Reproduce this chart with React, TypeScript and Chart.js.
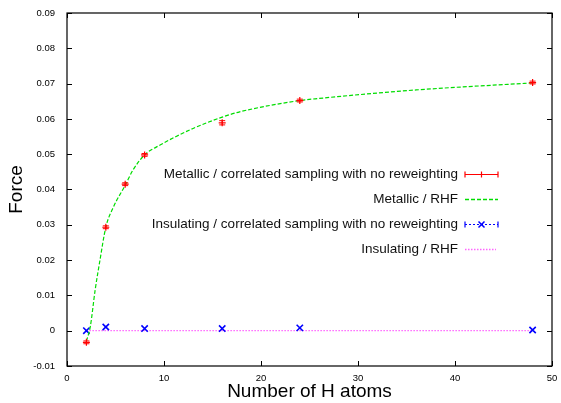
import React, { useEffect, useRef } from "react";
import { Chart, registerables } from "chart.js";

Chart.register(...registerables);

const metallicX = [2, 4, 6, 8, 16, 24, 48];
const metallicY = [-0.0033, 0.0293, 0.0415, 0.0498, 0.0589, 0.0652, 0.0703];
const metallicErr = [0.0004, 0.0004, 0.0004, 0.0004, 0.0006, 0.0004, 0.0004];

const rhfMetX = [2, 2.4, 2.9, 3.4, 4, 4.8, 6, 6.8, 8, 9.6, 13, 16, 17.8, 24, 26, 36, 48];
const rhfMetY = [-0.003, 0.0011, 0.0115, 0.02, 0.0293, 0.0351, 0.0412, 0.0455, 0.0498, 0.0526, 0.0573, 0.0605, 0.062, 0.0652, 0.0658, 0.0682, 0.0702];

const insX = [2, 4, 8, 16, 24, 48];
const insY = [0.0, 0.00105, 0.0006, 0.0006, 0.0008, 0.0002];

const rhfInsX = [2, 48];
const rhfInsY = [0, 0];

const legendLabels = [
  "Metallic / correlated sampling with no reweighting",
  "Metallic / RHF",
  "Insulating / correlated sampling with no reweighting",
  "Insulating / RHF",
];

const xTicks = [0, 10, 20, 30, 40, 50];
const yTicks = [-0.01, 0, 0.01, 0.02, 0.03, 0.04, 0.05, 0.06, 0.07, 0.08, 0.09];

const RED = "#ff0000";
const GREEN = "#00dd00";
const BLUE = "#0000ff";
const PINK = "#ff66ff";
const FONT = "'Liberation Sans', Arial, sans-serif";

const pts = (xs: number[], ys: number[]) => xs.map((x, i) => ({ x, y: ys[i] }));

const zeroPad = (s: any) => {
  s.paddingTop = 0;
  s.paddingBottom = 0;
  s.paddingLeft = 0;
  s.paddingRight = 0;
};

const framePlugin = {
  id: "frame",
  afterDatasetsDraw(chart: any) {
    const { ctx, chartArea: a, scales } = chart;
    const xs = scales.x;
    const ys = scales.y;
    ctx.save();
    // error bars
    ctx.strokeStyle = RED;
    ctx.lineWidth = 1;
    metallicX.forEach((x, i) => {
      const px = xs.getPixelForValue(x);
      const top = ys.getPixelForValue(metallicY[i] + metallicErr[i]);
      const bot = ys.getPixelForValue(metallicY[i] - metallicErr[i]);
      ctx.beginPath();
      ctx.moveTo(px, top);
      ctx.lineTo(px, bot);
      ctx.moveTo(px - 3, top);
      ctx.lineTo(px + 3, top);
      ctx.moveTo(px - 3, bot);
      ctx.lineTo(px + 3, bot);
      ctx.stroke();
    });
    // frame
    ctx.strokeStyle = "#000";
    ctx.lineWidth = 1.2;
    ctx.strokeRect(a.left, a.top, a.right - a.left, a.bottom - a.top);
    // ticks
    ctx.lineWidth = 1;
    ctx.beginPath();
    xTicks.forEach((v) => {
      const px = Math.round(xs.getPixelForValue(v)) + 0.5;
      ctx.moveTo(px, a.bottom);
      ctx.lineTo(px, a.bottom - 5);
      ctx.moveTo(px, a.top);
      ctx.lineTo(px, a.top + 5);
    });
    yTicks.forEach((v) => {
      const py = Math.round(ys.getPixelForValue(v)) + 0.5;
      ctx.moveTo(a.left, py);
      ctx.lineTo(a.left + 5, py);
      ctx.moveTo(a.right, py);
      ctx.lineTo(a.right - 5, py);
    });
    ctx.stroke();

    // legend
    const textX = 458;
    const s0 = 465;
    const s1 = 498;
    const rows = [174, 199.3, 224.3, 249.3];
    ctx.font = `13.5px ${FONT}`;
    ctx.fillStyle = "#111";
    ctx.textAlign = "right";
    ctx.textBaseline = "middle";
    legendLabels.forEach((t, i) => ctx.fillText(t, textX, rows[i]));

    const mid = (s0 + s1) / 2;
    // row 1: red errorbar sample
    let y = Math.round(rows[0]) + 0.5;
    ctx.strokeStyle = RED;
    ctx.lineWidth = 1.2;
    ctx.setLineDash([]);
    ctx.beginPath();
    ctx.moveTo(s0, y);
    ctx.lineTo(s1, y);
    ctx.moveTo(s0, y - 3);
    ctx.lineTo(s0, y + 3);
    ctx.moveTo(s1, y - 3);
    ctx.lineTo(s1, y + 3);
    ctx.moveTo(mid, y - 3);
    ctx.lineTo(mid, y + 3);
    ctx.stroke();
    // row 2: green dashed
    y = Math.round(rows[1]) + 0.5;
    ctx.strokeStyle = GREEN;
    ctx.lineWidth = 1.3;
    ctx.setLineDash([4, 2]);
    ctx.beginPath();
    ctx.moveTo(s0, y);
    ctx.lineTo(s1, y);
    ctx.stroke();
    // row 3: blue dotted with caps and x
    y = Math.round(rows[2]) + 0.5;
    ctx.strokeStyle = BLUE;
    ctx.lineWidth = 1.2;
    ctx.setLineDash([2, 2]);
    ctx.beginPath();
    ctx.moveTo(s0, y);
    ctx.lineTo(s1, y);
    ctx.stroke();
    ctx.setLineDash([]);
    ctx.beginPath();
    ctx.moveTo(s0, y - 3);
    ctx.lineTo(s0, y + 3);
    ctx.moveTo(s1, y - 3);
    ctx.lineTo(s1, y + 3);
    ctx.stroke();
    ctx.lineWidth = 1.5;
    ctx.beginPath();
    ctx.moveTo(mid - 3, y - 3);
    ctx.lineTo(mid + 3, y + 3);
    ctx.moveTo(mid - 3, y + 3);
    ctx.lineTo(mid + 3, y - 3);
    ctx.stroke();
    // row 4: pink dotted
    y = Math.round(rows[3]) + 0.5;
    ctx.lineWidth = 1.3;
    ctx.strokeStyle = PINK;
    ctx.setLineDash([1.5, 1.5]);
    ctx.beginPath();
    ctx.moveTo(s0, y);
    ctx.lineTo(s1 - 2, y);
    ctx.stroke();
    ctx.restore();
  },
};

export default function App() {
  const ref = useRef<HTMLCanvasElement>(null);
  useEffect(() => {
    document.body.style.margin = "0";
    const canvas = ref.current!;
    const chart = new Chart(canvas, {
      type: "scatter",
      data: {
        datasets: [
          {
            label: legendLabels[0],
            data: pts(metallicX, metallicY),
            showLine: false,
            pointStyle: "cross",
            pointRadius: 3.5,
            pointBorderWidth: 1.2,
            borderColor: RED,
            backgroundColor: RED,
          },
          {
            label: legendLabels[1],
            data: pts(rhfMetX, rhfMetY),
            showLine: true,
            pointRadius: 0,
            borderColor: GREEN,
            borderWidth: 1.2,
            borderDash: [4, 2],
            cubicInterpolationMode: "monotone",
          },
          {
            label: legendLabels[2],
            data: pts(insX, insY),
            showLine: false,
            pointStyle: "crossRot",
            pointRadius: 4.5,
            pointBorderWidth: 1.6,
            borderColor: BLUE,
            backgroundColor: BLUE,
          },
          {
            label: legendLabels[3],
            data: pts(rhfInsX, rhfInsY),
            showLine: true,
            pointRadius: 0,
            borderColor: PINK,
            borderWidth: 1.2,
            borderDash: [1.5, 1.5],
          },
        ],
      } as any,
      options: {
        responsive: false,
        animation: false,
        events: [],
        layout: { autoPadding: false, padding: { left: 0, right: 9, top: 13, bottom: 0 } },
        plugins: {
          legend: { display: false },
          tooltip: { enabled: false },
        },
        scales: {
          x: {
            type: "linear",
            min: 0,
            max: 50,
            afterFit: (s: any) => {
              s.height = 37;
              zeroPad(s);
            },
            afterBuildTicks: (s: any) => {
              s.ticks = xTicks.map((v) => ({ value: v }));
            },
            grid: { display: false, drawTicks: false },
            border: { display: false },
            ticks: {
              padding: 7,
              color: "#000",
              font: { size: 9.5, family: FONT },
              maxRotation: 0,
              callback: (v: any) => String(v),
            },
            title: {
              display: true,
              text: "Number of H atoms",
              color: "#000",
              font: { size: 19, family: FONT },
              padding: { top: 0, bottom: 0 },
            },
          },
          y: {
            type: "linear",
            min: -0.01,
            max: 0.09,
            afterFit: (s: any) => {
              s.width = 67;
              zeroPad(s);
            },
            afterBuildTicks: (s: any) => {
              s.ticks = yTicks.map((v) => ({ value: v }));
            },
            grid: { display: false, drawTicks: false },
            border: { display: false },
            ticks: {
              padding: 12,
              color: "#000",
              font: { size: 9.5, family: FONT },
              callback: (v: any) => String(Number(Number(v).toFixed(2))),
            },
            title: {
              display: true,
              text: "Force",
              color: "#000",
              font: { size: 19, family: FONT },
              padding: { top: 5, bottom: 0 },
            },
          },
        },
      } as any,
      plugins: [framePlugin],
    });
    return () => chart.destroy();
  }, []);
  return (
    <div style={{ position: "absolute", left: 0, top: 0, width: 561, height: 403, background: "#fff" }}>
      <canvas ref={ref} width={561} height={403} />
    </div>
  );
}
